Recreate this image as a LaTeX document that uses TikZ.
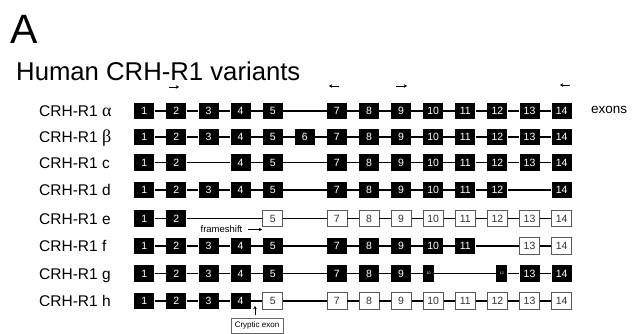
\documentclass[tikz,border=0pt]{standalone}
\usepackage{fontspec}
\setmainfont{Liberation Sans}
\newfontfamily\grk{Liberation Serif}
\usetikzlibrary{arrows.meta}
\def\kS{exs}
\def\kT{ext}
\begin{document}
\begin{tikzpicture}[x=1pt,y=-1pt,
  exbase/.style={minimum width=20pt,minimum height=16.5pt,inner sep=0pt,font=\fontsize{10.5}{11}\selectfont},
  exb/.style={exbase,fill=black,text=white},
  exw/.style={exbase,fill=white,draw=black!65,line width=0.8pt,text=black!80},
  exs/.style={exb,minimum width=11pt,font=\fontsize{3.5}{4}\selectfont},
  ext/.style={exs},
  link/.style={line width=1.3pt},
  lbl/.style={anchor=base west,inner sep=0pt,font=\fontsize{15.5}{18}\selectfont},
  primer/.style={line width=0.8pt,-{Stealth[length=3.2pt,width=3.6pt]}}
  ]
\useasboundingbox (0,0) rectangle (632,333);
\node[anchor=base west,inner sep=0pt,font=\fontsize{41}{45}\selectfont] (A) at (10,43) {A};
\node[anchor=base west,inner sep=0pt,font=\fontsize{25.7}{28}\selectfont] (title) at (16,80) {Human CRH-R1 variants};

\foreach \r/\y/\lab/\list in {
  ra/111/{CRH-R1 {\grk\fontsize{18}{18}\selectfont α}}/{1/exb,2/exb,3/exb,4/exb,5/exb,7/exb,8/exb,9/exb,10/exb,11/exb,12/exb,13/exb,14/exb},
  rb/137/{CRH-R1 {\grk\fontsize{18}{18}\selectfont β}}/{1/exb,2/exb,3/exb,4/exb,5/exb,6/exb,7/exb,8/exb,9/exb,10/exb,11/exb,12/exb,13/exb,14/exb},
  rc/162.5/{CRH-R1 c}/{1/exb,2/exb,4/exb,5/exb,7/exb,8/exb,9/exb,10/exb,11/exb,12/exb,13/exb,14/exb},
  rd/190/{CRH-R1 d}/{1/exb,2/exb,3/exb,4/exb,5/exb,7/exb,8/exb,9/exb,10/exb,11/exb,12/exb,14/exb},
  re/218.5/{CRH-R1 e}/{1/exb,2/exb,5/exw,7/exw,8/exw,9/exw,10/exw,11/exw,12/exw,13/exw,14/exw},
  rf/246/{CRH-R1 f}/{1/exb,2/exb,3/exb,4/exb,5/exb,7/exb,8/exb,9/exb,10/exb,11/exb,13/exw,14/exw},
  rg/273.5/{CRH-R1 g}/{1/exb,2/exb,3/exb,4/exb,5/exb,7/exb,8/exb,9/exb,10/exs,12/ext,13/exb,14/exb},
  rh/301/{CRH-R1 h}/{1/exb,2/exb,3/exb,4/exb,5/exw,7/exw,8/exw,9/exw,10/exw,11/exw,12/exw,13/exw,14/exw}} {
  \node[lbl] (\r-lab) at (39,\y+5.5) {\lab};
  \foreach \i/\k [remember=\i as \p (initially 0)] in \list {
    \pgfmathsetmacro{\xc}{144.3+32.1*(\i-1)}
    \ifx\k\kS \pgfmathsetmacro{\xc}{\xc-4.5}\fi
    \ifx\k\kT \pgfmathsetmacro{\xc}{\xc+4.5}\fi
    \node[\k] (\r-\i) at (\xc,\y) {\i};
    \ifnum\p>0 \draw[link] (\r-\p) -- (\r-\i);\fi
  }
}

\node[anchor=west,inner sep=0pt,font=\fontsize{13.5}{15}\selectfont] (exons) at (591,110) {exons};

% primer arrows
\coordinate (p1a) at (169,87); \coordinate (p1b) at (179,87);
\coordinate (p2a) at (339,86); \coordinate (p2b) at (329,86);
\coordinate (p3a) at (396,86); \coordinate (p3b) at (407,86);
\coordinate (p4a) at (570,85); \coordinate (p4b) at (560,85);
\draw[primer] (p1a) -- (p1b);
\draw[primer] (p2a) -- (p2b);
\draw[primer] (p3a) -- (p3b);
\draw[primer] (p4a) -- (p4b);

% frameshift
\node[inner sep=0pt,font=\fontsize{9.5}{10}\selectfont] (fs) at (221.5,229) {frameshift};
\coordinate (fsa) at (248,229.5); \coordinate (fsb) at (262,229.5);
\draw[primer] (fsa) -- (fsb);

% cryptic exon
\node[draw=black!60,line width=0.6pt,fill=white,minimum width=52pt,minimum height=15pt,inner sep=0pt,font=\fontsize{8}{9}\selectfont] (cry) at (257,325.5) {Cryptic exon};
\coordinate (ca) at (255,314.5); \coordinate (cb) at (255,306);
\draw[primer] (ca) -- (cb);
\end{tikzpicture}
\end{document}
